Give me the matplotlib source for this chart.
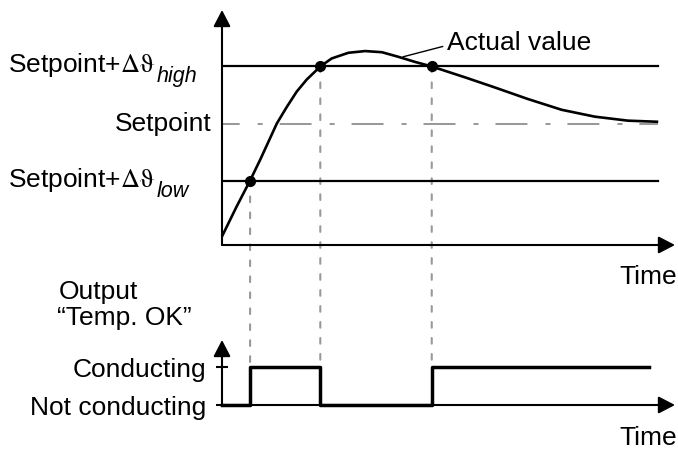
import matplotlib
matplotlib.use("Agg")
import matplotlib.pyplot as plt
from matplotlib.patches import ConnectionPatch

plt.rcParams['font.family'] = ['Liberation Sans', 'DejaVu Sans']
plt.rcParams['mathtext.fontset'] = 'custom'
plt.rcParams['mathtext.rm'] = 'STIXGeneral'
plt.rcParams['mathtext.it'] = 'Liberation Sans:italic'
plt.rcParams['lines.scale_dashes'] = False

# actual value curve (time, temperature relative to setpoint)
time = [0, 0.32, 0.62, 0.84, 1.06, 1.21, 1.43, 1.65, 1.87, 2.17, 2.42, 2.79,
        3.16, 3.53, 3.89, 4.26, 4.63, 5.40, 6.03, 6.75, 7.50, 8.23, 8.96, 9.63]
temp = [-1.98, -1.46, -1.00, -0.64, -0.26, 0.00, 0.29, 0.56, 0.77, 1.00, 1.14, 1.24,
        1.27, 1.25, 1.17, 1.08, 1.00, 0.80, 0.63, 0.43, 0.24, 0.12, 0.05, 0.03]

# threshold levels
level_low, level_set, level_high = -1.0, 0.0, 1.0
line_end = 9.63

# crossing points
cross_t = [0.62, 2.17, 4.63]
cross_T = [-1.0, 1.0, 1.0]

# output signal (0 = not conducting, 1 = conducting)
out_t = [0, 0.62, 2.17, 4.63, 9.43]
out_state = [0, 1, 0, 1, 1]
out_labels = ['Not conducting', 'Conducting']

FS = 19
FS_SUB = 15.5
GRAY = '#999999'
W, H = 678, 450


def fx(px):
    return px / W


def fy(py):
    return 1 - py / H


fig = plt.figure(figsize=(6.78, 4.5), dpi=100)
ax = fig.add_axes([fx(222), fy(245), 453 / W, 235 / H])
ax2 = fig.add_axes([fx(222), fy(405), 453 / W, 65 / H])

for a in (ax, ax2):
    a.set_xlim(0, 10)
    a.patch.set_visible(False)
    for s in a.spines.values():
        s.set_visible(False)
    a.set_xticks([])
ax.set_ylim(-2.13, 1.99)
ax2.set_ylim(0, 65 / 38)
ax.set_yticks([])

# axis arrows
arrow = dict(arrowstyle='-|>,head_length=0.5,head_width=0.26', color='black',
             lw=1.5, shrinkA=0, shrinkB=0, mutation_scale=20)
for a in (ax, ax2):
    a.annotate('', xy=(1, 0), xytext=(0, 0), xycoords='axes fraction',
               arrowprops=arrow, annotation_clip=False)
    a.annotate('', xy=(0, 1), xytext=(0, 0), xycoords='axes fraction',
               arrowprops=arrow, annotation_clip=False)

# threshold lines
ax.plot([0, line_end], [level_high, level_high], color='black', lw=1.6)
ax.plot([0, line_end], [level_low, level_low], color='black', lw=1.6)
ax.plot([0, line_end], [level_set, level_set], color=GRAY, lw=1.45,
        linestyle=(10.3, (23, 13, 3.6, 12.2)))

# curve and crossing points
ax.plot(time, temp, color='black', lw=1.9, solid_joinstyle='round',
        solid_capstyle='butt', clip_on=False)
ax.plot(cross_t, cross_T, 'o', color='black', ms=7, zorder=5)

# dashed guides down to the output
for t, T in zip(cross_t, cross_T):
    con = ConnectionPatch(xyA=(t, T), coordsA=ax.transData,
                          xyB=(t, 1), coordsB=ax2.transData,
                          color=GRAY, lw=1.5, linestyle=(0, (4.1, 7.4)), zorder=-1)
    fig.add_artist(con)

# leader for "Actual value"
ax.plot([4.0, 4.87], [1.17, 1.35], color='black', lw=1.0)
fig.text(fx(447), fy(50), 'Actual value', fontsize=FS, va='baseline', ha='left')

# output signal
ax2.step(out_t, out_state, where='post', color='black', lw=2.5, clip_on=False,
         zorder=4)
ax2.set_yticks([0, 1], labels=out_labels, fontsize=FS)
ax2.tick_params(axis='y', direction='inout', length=8, width=1.5, pad=7)


def level_label(py, sub):
    main = fig.text(fx(8), fy(py), r'Setpoint+$\mathrm{\Delta\vartheta}$',
                    fontsize=FS, va='baseline', ha='left')
    ax.annotate(sub, xy=(1, 0), xycoords=main, xytext=(1, -2.5),
                textcoords='offset points', fontsize=FS_SUB, style='italic',
                va='baseline', ha='left', annotation_clip=False)


level_label(72, 'high')
level_label(187, 'low')
fig.text(fx(212), fy(131), 'Setpoint', fontsize=FS, va='baseline', ha='right')
fig.text(fx(677), fy(283.5), 'Time', fontsize=FS, va='baseline', ha='right')
fig.text(fx(677), fy(445), 'Time', fontsize=FS, va='baseline', ha='right')
fig.text(fx(59), fy(298.5), 'Output', fontsize=FS, va='baseline', ha='left')
fig.text(fx(57), fy(324.5), '\u201cTemp. OK\u201d', fontsize=FS, va='baseline',
         ha='left')

fig.savefig('out.png', dpi=100)
